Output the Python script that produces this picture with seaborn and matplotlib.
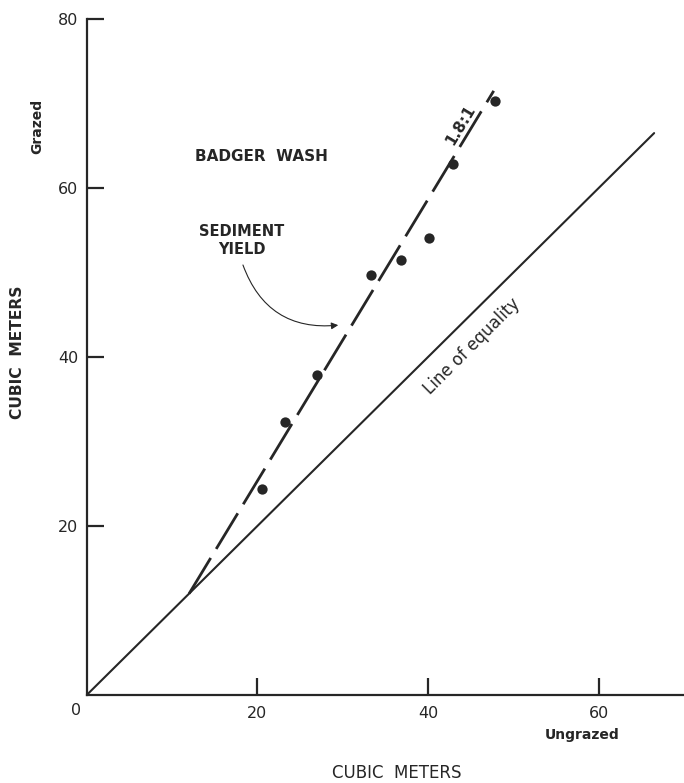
import matplotlib
matplotlib.use("Agg")
import matplotlib.pyplot as plt
import seaborn as sns
import pandas as pd

# Sediment yield, cubic meters, paired watersheds
ungrazed = [20.5, 23.2, 27.0, 33.3, 36.8, 40.1, 42.9, 47.8]
grazed = [24.4, 32.3, 37.9, 49.7, 51.5, 54.1, 62.8, 70.3]

# Line of equality and fitted 1.8:1 line (end points)
equality_x = [0, 66.5]
equality_y = [0, 66.5]
fit_x = [12.0, 47.7]
fit_y = [12.0, 71.5]

x_ticks = [20, 40, 60]
y_ticks = [20, 40, 60, 80]

sns.set_theme(style="white")
plt.rcParams["font.family"] = ["DejaVu Sans"]

ink = "#262626"

fig = plt.figure(figsize=(6.84, 7.83), dpi=100)
ax = fig.add_axes([0.1268, 0.1124, 0.8732, 0.8633])

df = pd.DataFrame({"Ungrazed": ungrazed, "Grazed": grazed})

sns.lineplot(x=equality_x, y=equality_y, ax=ax, color=ink, lw=1.5, sort=False)
sns.lineplot(x=fit_x, y=fit_y, ax=ax, color=ink, lw=2.0, sort=False,
             linestyle=(0, (15, 3.8)))
sns.scatterplot(data=df, x="Ungrazed", y="Grazed", ax=ax, color=ink,
                s=55, edgecolor=ink, linewidth=0, zorder=5)

ax.set_xlim(0, 70)
ax.set_ylim(0, 80)
ax.set_xticks(x_ticks)
ax.set_yticks(y_ticks)
ax.set_xlabel("")
ax.set_ylabel("")

for side in ("top", "right"):
    ax.spines[side].set_visible(False)
for side in ("left", "bottom"):
    ax.spines[side].set_color(ink)
    ax.spines[side].set_linewidth(1.6)

ax.tick_params(axis="both", which="major", bottom=True, left=True,
               direction="in", length=12, width=1.6,
               color=ink, labelcolor=ink, labelsize=11.5)
ax.tick_params(axis="x", pad=8)
ax.tick_params(axis="y", pad=6)

ax.annotate("0", xy=(0, 0), xytext=(-8, -11), textcoords="offset points",
            ha="center", va="center", fontsize=11.5, color=ink,
            annotation_clip=False)

ax.text(20.5, 63.7, "BADGER  WASH", ha="center", va="center",
        fontsize=11, fontweight="bold", color=ink)
ax.text(18.2, 53.8, "SEDIMENT\nYIELD", ha="center", va="center",
        fontsize=10.5, fontweight="bold", color=ink, linespacing=1.25)
ax.annotate("", xy=(29.8, 43.8), xytext=(18.2, 51.2),
            arrowprops=dict(arrowstyle="-|>", color=ink, lw=0.8,
                            mutation_scale=10,
                            connectionstyle="arc3,rad=0.4"))
ax.text(43.8, 67.5, "1.8:1", ha="center", va="center", rotation=59,
        rotation_mode="anchor", fontsize=11, fontweight="bold", color=ink)
ax.text(45.2, 41.3, "Line of equality", ha="center", va="center",
        rotation=45, rotation_mode="anchor", fontsize=12, color=ink)

fig.text(0.054, 0.838, "Grazed", rotation=90, ha="center", va="center",
         fontsize=10, fontweight="bold", color=ink)
fig.text(0.026, 0.5504, "CUBIC  METERS", rotation=90, ha="center",
         va="center", fontsize=11.2, fontweight="bold", color=ink)
fig.text(0.851, 0.0613, "Ungrazed", ha="center", va="center",
         fontsize=10, fontweight="bold", color=ink)
fig.text(0.580, 0.0128, "CUBIC  METERS", ha="center", va="center",
         fontsize=12, color=ink)

fig.savefig("out.png", dpi=100, facecolor="white")
